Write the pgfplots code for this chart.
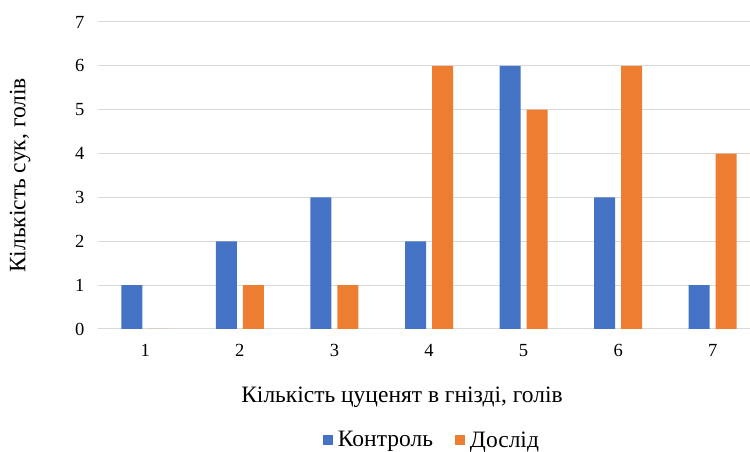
\documentclass[border=0pt]{standalone}
\usepackage{pgfplots}
\pgfplotsset{compat=1.18}
\usepackage{fontspec}
\setmainfont{Liberation Serif}
\definecolor{cblue}{HTML}{4472C4}
\definecolor{corange}{HTML}{ED7D31}
\definecolor{gridc}{HTML}{D9D9D9}
\begin{document}
\begin{tikzpicture}
\path[use as bounding box] (-98pt,-123pt) rectangle (652pt,329pt);
\begin{axis}[
  at={(0,0)}, anchor=south west,
  scale only axis, width=662pt, height=307pt,
  ybar=6pt, bar width=21pt,
  xmin=0.5, xmax=7.5, ymin=0, ymax=7,
  xtick={1,...,7}, ytick={0,...,7},
  ymajorgrids, grid style={gridc, line width=1pt},
  axis line style={draw=none},
  major tick length=0pt,
  /pgf/number format/assume math mode=true,
  tick label style={font=\fontsize{18.5}{22}\selectfont},
  xticklabel style={yshift=-12pt},
  yticklabel style={xshift=-10pt},
  xlabel={Кількість цуценят в гнізді, голів},
  ylabel={Кількість сук, голів},
  label style={font=\fontsize{23.5}{28}\selectfont},
  xlabel style={at={(axis description cs:0.5,0)}, anchor=center, yshift=-68pt, xshift=-27pt},
  ylabel style={at={(axis description cs:-0.1178,0.5)}, anchor=center},
  legend style={at={(0.5045,-0.3616)}, anchor=center, draw=none, legend columns=2,
    font=\fontsize{23.5}{28}\selectfont, column sep=3pt,
    /tikz/every even column/.append style={column sep=20pt}},
  legend image code/.code={\fill[#1] (0pt,-5pt) rectangle (10pt,5pt);},
]
\draw[gridc, line width=1pt] (rel axis cs:0,0) -- (rel axis cs:1,0);
\addplot[fill=cblue, draw=none] coordinates {(1,1) (2,2) (3,3) (4,2) (5,6) (6,3) (7,1)};
\addplot[fill=corange, draw=none] coordinates {(1,0) (2,1) (3,1) (4,6) (5,5) (6,6) (7,4)};
\legend{Контроль, Дослід}
\end{axis}
\end{tikzpicture}
\end{document}
